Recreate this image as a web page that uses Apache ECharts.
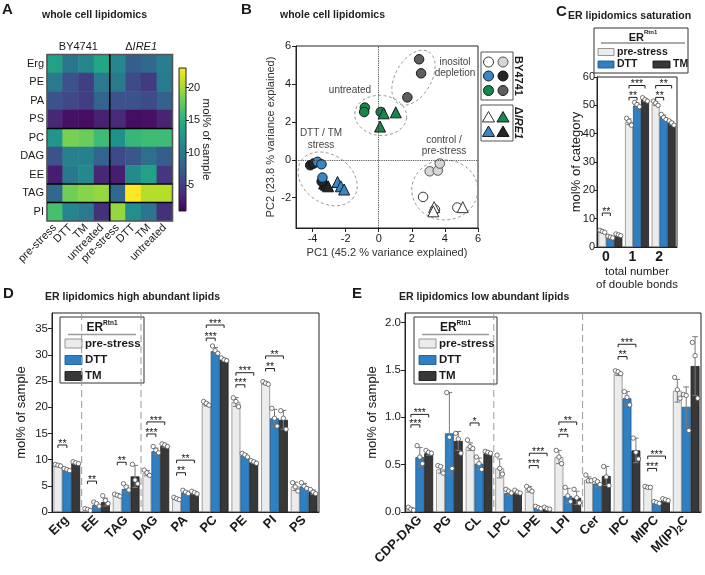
<!DOCTYPE html>
<html><head><meta charset="utf-8">
<script src="https://cdn.jsdelivr.net/npm/echarts@6/dist/echarts.min.js"></script>
<style>html,body{margin:0;padding:0;background:#fff}#c{width:705px;height:575px}</style>
</head><body><div id="c"></div>
<script>
const FONT = '"Liberation Sans", Arial, Helvetica, sans-serif';

// ---------- Panel A : heatmap ----------
const hmRows = ['Erg','PE','PA','PS','PC','DAG','EE','TAG','PI'];
const hmCols = ['pre-stress','DTT','TM','untreated','pre-stress','DTT','TM','untreated'];
const hmBY4741 = [
  [13.5, 9.5, 11.0, 14.0],
  [10.0, 6.5, 5.0, 10.0],
  [6.5, 5.8, 5.0, 8.0],
  [3.5, 2.0, 1.8, 3.0],
  [12.5, 18.5, 18.0, 16.0],
  [6.5, 10.5, 10.5, 8.0],
  [2.8, 9.8, 11.2, 3.5],
  [8.5, 18.2, 19.0, 19.5],
  [16.5, 11.0, 10.0, 4.0]
];
const hmIRE1 = [
  [11.0, 7.5, 8.5, 10.2],
  [10.0, 6.0, 4.8, 10.0],
  [6.5, 6.5, 6.0, 7.8],
  [3.6, 1.8, 2.0, 3.2],
  [12.0, 15.5, 16.0, 16.0],
  [5.8, 7.0, 9.0, 7.5],
  [2.8, 11.5, 13.5, 4.5],
  [8.5, 23.0, 20.5, 20.5],
  [19.5, 11.8, 9.5, 4.0]
];
const hmColBreaks = [4];
const hmRowBreaks = [4, 7, 8];
const cbMin = 1, cbMax = 23;
const cbTicks = [5, 10, 15, 20];

// ---------- Panel B : PCA ----------
const pcaXTicks = [-4, -2, 0, 2, 4, 6];
const pcaYTicks = [-2, 0, 2, 4, 6];
const byPreStress = [[2.68,-1.96],[3.4,-2.63],[4.75,-2.52]];
const byControl = [[3.08,-0.61],[3.57,-0.57],[3.69,-0.2]];
const byDTT = [[-3.70,-0.11],[-3.46,-0.24],[-3.40,-0.94]];
const byTM = [[-4.14,-0.29],[-3.94,-0.20],[-3.45,-1.15]];
const byUntreated = [[-0.84,2.75],[-0.88,2.52],[0.12,2.52]];
const byInositol = [[2.44,5.30],[2.56,4.56],[1.73,3.29]];
const ireControl = [[3.35,-2.5],[3.3,-2.72],[5.08,-2.5]];
const ireUntreated = [[0.3,2.45],[1.03,2.5],[0.08,1.75]];
const ireDTT = [[-2.49,-1.17],[-2.29,-1.40],[-2.09,-1.57]];
const ireTM = [[-3.30,-1.25],[-3.18,-1.32],[-3.06,-1.40]];
// ellipse annotations: centre x, centre y (data), semi-axes in px, tilt (deg)
const pcaEllipses = [[2.1,4.33,30,18,60],[0.12,2.34,26,20,-5],[-3.09,-1.01,32,24,-35],[3.99,-1.59,33,30,0]];

// ---------- Panel C : saturation ----------
const satCats = ['0','1','2'];
const satPre = [5.4, 44.2, 50.6];
const satDTT = [3.5, 49.9, 45.8];
const satTM = [4.3, 51.9, 43.7];
const satPreSD = [0.3, 1.0, 0.7];
const satDTTSD = [0.3, 0.9, 0.8];
const satTMSD = [0.3, 0.5, 0.6];
const satPrePts = [[5.9,5.5,5.2],[45.4,44.4,43.0],[51.5,50.8,50.0]];
const satDTTPts = [[3.8,3.5,3.2],[51.0,50.3,49.5],[46.8,45.7,45.0]];
const satTMPts = [[4.6,4.3,4.0],[52.7,52.0,51.5],[44.5,43.8,43.0]];
const satSig = [[0,0,1,12,2],[1,0,1,52.8,2],[1,0,2,57,3],[2,0,1,52.8,2],[2,0,2,57,2]];

// ---------- Panel D : high abundant ----------
const hiCats = ['Erg','EE','TAG','DAG','PA','PC','PE','PI','PS'];
const hiPre = [8.8, 0.5, 3.3, 7.4, 2.55, 20.6, 21.0, 24.6, 4.9];
const hiDTT = [8.1, 1.3, 4.4, 11.6, 3.7, 30.7, 10.8, 17.9, 4.9];
const hiTM = [9.3, 1.9, 6.8, 12.6, 3.6, 29.1, 9.5, 17.6, 3.8];
const hiPreSD = [0.15, 0.15, 0.2, 0.5, 0.2, 0.35, 0.85, 0.25, 0.8];
const hiDTTSD = [0.2, 0.4, 0.6, 0.6, 0.3, 0.7, 0.35, 1.7, 0.55];
const hiTMSD = [0.2, 0.75, 2.1, 0.3, 0.25, 0.25, 0.25, 1.8, 0.4];
const hiPrePts = [[9.07,8.94,8.8],[0.64,0.5,0.3],[3.4,3.2,3.0],[8.0,7.5,7.0],[2.8,2.55,2.36],[21.1,20.75,20.4],[21.8,21.1,20.1],[24.9,24.6,24.4],[5.6,4.8,4.0]];
const hiDTTPts = [[8.3,8.1,7.9],[1.9,1.6,1.1],[5.4,4.8,4.2],[12.5,11.8,11.3],[4.15,3.8,3.5],[31.7,30.8,30.3],[11.2,10.9,10.5],[19.8,17.9,16.4],[5.6,4.9,4.5]];
const hiTMPts = [[9.6,9.4,9.25],[3.1,2.2,1.6],[9.1,6.1,5.4],[13.0,12.8,12.5],[3.96,3.7,3.45],[29.4,29.05,28.9],[9.8,9.6,9.3],[19.35,17.9,15.8],[4.3,3.8,3.5]];
const hiSig = [[0,0,1,12.8,2],[1,0,1,5.9,2],[2,0,1,9.5,2],[3,0,1,14.9,3],[3,0,2,17.2,3],[4,0,1,7.5,2],[4,0,2,9.9,2],[5,0,1,33.2,3],[5,0,2,35.7,3],[6,0,1,24.3,3],[6,0,2,26.6,3],[7,0,1,27.4,2],[7,0,2,29.8,2]];
const hiSeparators = [1, 3];
const hiYTicks = [0,5,10,15,20,25,30,35];

// ---------- Panel E : low abundant ----------
const loCats = ['CDP-DAG','PG','CL','LPC','LPE','LPI','Cer','IPC','MIPC','M(IP)2C'];
const loPre = [0.035, 0.45, 0.69, 0.46, 0.24, 0.58, 0.34, 1.46, 0.26, 1.28];
const loDTT = [0.58, 0.83, 0.51, 0.20, 0.046, 0.17, 0.30, 1.20, 0.095, 1.11];
const loTM = [0.62, 0.75, 0.62, 0.20, 0.035, 0.15, 0.38, 0.65, 0.12, 1.54];
const loPreSD = [0.01, 0.04, 0.04, 0.1, 0.03, 0.07, 0.03, 0.02, 0.01, 0.12];
const loDTTSD = [0.1, 0.43, 0.06, 0.02, 0.01, 0.08, 0.03, 0.07, 0.01, 0.21];
const loTMSD = [0.02, 0.1, 0.01, 0.01, 0.01, 0.07, 0.1, 0.13, 0.01, 0.31];
const loPrePts = [[0.05,0.03,0.02],[0.49,0.48,0.41],[0.76,0.69,0.67],[0.6,0.46,0.4],[0.27,0.24,0.22],[0.65,0.58,0.51],[0.39,0.33,0.33],[1.49,1.48,1.46],[0.27,0.26,0.26],[1.42,1.29,1.2]];
const loDTTPts = [[0.70,0.58,0.51],[1.26,0.79,0.46],[0.58,0.51,0.45],[0.24,0.22,0.2],[0.06,0.046,0.035],[0.26,0.17,0.11],[0.34,0.32,0.29],[1.27,1.21,1.13],[0.11,0.1,0.09],[1.24,1.23,0.86]];
const loTMPts = [[0.65,0.63,0.62],[0.83,0.77,0.62],[0.64,0.63,0.62],[0.23,0.21,0.2],[0.05,0.035,0.03],[0.24,0.15,0.095],[0.48,0.37,0.28],[0.78,0.63,0.56],[0.14,0.13,0.12],[1.79,1.65,1.2]];
const loSig = [[0,0,1,0.92,3],[0,0,2,1.03,3],[2,0,1,0.94,1],[4,0,1,0.49,3],[4,0,2,0.62,3],[5,0,1,0.82,2],[5,0,2,0.95,2],[7,0,1,1.64,2],[7,0,2,1.77,3],[8,0,1,0.46,3],[8,0,2,0.59,3]];
const loSeparators = [3, 6];
const loYTicks = [0, 0.5, 1.0, 1.5, 2.0];

// ---------- styles ----------
const condNames = ['pre-stress','DTT','TM'];
const condFill = ['#ececec','#2f7fc3','#383838'];
const condStroke = ['#8a8a8a','#1f5a92','#1a1a1a'];
const viridis = ['#440154','#482475','#414487','#355f8d','#2a788e','#21918c','#22a884','#44bf70','#7ad151','#bddf26','#fde725'];
const INK = '#1a1a1a';

const G_HM = {left:47, top:54.5, width:125.5, height:166.5};
const G_CB = {left:179, top:68, width:7, height:143};
const G_PCA = {left:296, top:46, width:182, height:182};
const G_C = {left:597, top:77, width:80, height:170};
const G_D = {left:52, top:313, width:267, height:199};
const G_E = {left:405, top:313, width:296, height:199};

const chart = echarts.init(document.getElementById('c'), null, {width:705, height:575});

function gridOf(g, frame) {
  return Object.assign({containLabel:false, outerBoundsMode:'none', show:!!frame, borderColor:'#222', borderWidth:1, backgroundColor:'transparent'}, g);
}

// ---------- custom renderers ----------
function barOffset(api, k) {
  const bw = api.size([1,0])[0];
  const barW = bw * 0.9 / 3;
  return {barW, off:(k-1)*barW};
}
function renderErr(params, api) {
  const i = api.value(0), k = api.value(1), m = api.value(2), s = api.value(3);
  const {barW, off} = barOffset(api, k);
  const cx = api.coord([i, m])[0] + off;
  const yT = api.coord([i, m + s])[1], yB = api.coord([i, Math.max(0, m - s)])[1];
  const cap = barW * 0.32;
  const st = {stroke:'#7a7a7a', lineWidth:1};
  return {type:'group', children:[
    {type:'line', shape:{x1:cx,y1:yT,x2:cx,y2:yB}, style:st},
    {type:'line', shape:{x1:cx-cap,y1:yT,x2:cx+cap,y2:yT}, style:st},
    {type:'line', shape:{x1:cx-cap,y1:yB,x2:cx+cap,y2:yB}, style:st}
  ]};
}
function renderPt(params, api) {
  const i = api.value(0), k = api.value(1), j = api.value(2), v = api.value(3);
  const {barW, off} = barOffset(api, k);
  const p = api.coord([i, v]);
  return {type:'circle', shape:{cx:p[0] + off + (j-1)*barW*0.3, cy:p[1], r:2.2}, style:{fill:'#fff', stroke:'#505050', lineWidth:0.8}};
}
function renderSig(params, api) {
  const i = api.value(0), k1 = api.value(1), k2 = api.value(2), y = api.value(3), n = api.value(4);
  const a = barOffset(api, k1), b = barOffset(api, k2);
  const c = api.coord([i, y]);
  const x1 = c[0] + a.off, x2 = c[0] + b.off, yy = c[1];
  const st = {stroke:'#222', lineWidth:1, fill:'none'};
  return {type:'group', children:[
    {type:'polyline', shape:{points:[[x1,yy+3],[x1,yy],[x2,yy],[x2,yy+3]]}, style:st},
    {type:'text', x:(x1+x2)/2, y:yy-1.2, style:{text:'*'.repeat(n), fill:'#222', fontSize:10.5, fontFamily:FONT, align:'center', verticalAlign:'middle'}}
  ]};
}
function renderSep(params, api) {
  const cs = params.coordSys;
  const bw = api.size([1,0])[0];
  const x = api.coord([api.value(0), 0])[0] - bw/2;
  return {type:'line', shape:{x1:x,y1:cs.y,x2:x,y2:cs.y+cs.height}, style:{stroke:'#9a9a9a', lineWidth:1, lineDash:[7,4]}};
}
function renderHmLines(params, api) {
  const cs = params.coordSys;
  const kind = api.value(2);
  const bw = api.size([1,0])[0], bh = api.size([0,1])[1];
  const st = {stroke:'#000', lineWidth:1.6, fill:'none'};
  if (kind === 2) return {type:'rect', shape:{x:cs.x, y:cs.y, width:cs.width, height:cs.height}, style:{stroke:'#555', lineWidth:1.6, fill:'none'}};
  if (kind === 0) { const x = api.coord([api.value(0), 0])[0] - bw/2; return {type:'line', shape:{x1:x,y1:cs.y,x2:x,y2:cs.y+cs.height}, style:st}; }
  const y = api.coord([0, api.value(1)])[1] - bh/2;
  return {type:'line', shape:{x1:cs.x,y1:y,x2:cs.x+cs.width,y2:y}, style:st};
}
function renderEllipse(params, api) {
  const c = api.coord([api.value(0), api.value(1)]);
  const rx = api.value(2), ry = api.value(3), a = api.value(4) * Math.PI / 180;
  const pts = [];
  for (let t = 0; t < 72; t++) {
    const th = t / 72 * Math.PI * 2;
    const ex = rx * Math.cos(th), ey = ry * Math.sin(th);
    pts.push([c[0] + ex*Math.cos(a) + ey*Math.sin(a), c[1] - ex*Math.sin(a) + ey*Math.cos(a)]);
  }
  return {type:'polygon', shape:{points:pts}, style:{fill:'none', stroke:'#8a8a8a', lineWidth:0.9, lineDash:[3,2.5]}};
}

// ---------- bar panel builder ----------
function barPanel(ax, means, sds, pts, sig, seps) {
  const out = [];
  if (seps) out.push({type:'custom', xAxisIndex:ax, yAxisIndex:ax, renderItem:renderSep, silent:true, z:1,
    data:seps.map(b => [b, 0]), encode:{x:0, y:1}});
  for (let k = 0; k < 3; k++) {
    out.push({type:'bar', name:condNames[k], xAxisIndex:ax, yAxisIndex:ax, data:means[k], barGap:'0%', barCategoryGap:'10%', silent:true, z:2,
      itemStyle:{color:condFill[k], borderColor:condStroke[k], borderWidth:0.8}});
  }
  const errData = [], ptData = [];
  for (let k = 0; k < 3; k++) {
    means[k].forEach((m, i) => {
      errData.push([i, k, m, sds[k][i]]);
      pts[k][i].forEach((v, j) => ptData.push([i, k, j, v]));
    });
  }
  out.push({type:'custom', xAxisIndex:ax, yAxisIndex:ax, renderItem:renderErr, data:errData, encode:{x:0, y:2}, silent:true, z:3});
  out.push({type:'custom', xAxisIndex:ax, yAxisIndex:ax, renderItem:renderPt, data:ptData, encode:{x:0, y:3}, silent:true, z:4});
  out.push({type:'custom', xAxisIndex:ax, yAxisIndex:ax, renderItem:renderSig, data:sig, encode:{x:0, y:3}, silent:true, z:5});
  return out;
}

// ---------- heatmap data ----------
const hmData = [];
hmRows.forEach((r, ri) => {
  for (let c = 0; c < 8; c++) hmData.push([c, ri, c < 4 ? hmBY4741[ri][c] : hmIRE1[ri][c-4]]);
});
const hmLines = [[0,0,2]].concat(hmColBreaks.map(c => [c,0,0])).concat(hmRowBreaks.map(r => [0,r,1]));

// ---------- axes ----------
const lbl = {color:INK, fontFamily:FONT, fontSize:11};
const axLine = {show:true, lineStyle:{color:'#222', width:1}};
const axTick = {show:true, inside:false, length:4, lineStyle:{color:'#222'}};

const xAxes = [
  {gridIndex:0, type:'category', data:hmCols, axisLine:{show:false}, axisTick:{show:false}, splitLine:{show:false},
   axisLabel:Object.assign({}, lbl, {interval:0, rotate:45, margin:5})},
  {gridIndex:1, type:'category', data:[''], show:false},
  {gridIndex:2, type:'value', min:-5, max:6, axisLine:Object.assign({onZero:false}, axLine), splitLine:{show:false},
   axisTick:Object.assign({customValues:pcaXTicks}, axTick), axisLabel:Object.assign({customValues:pcaXTicks, margin:5}, lbl),
   name:'PC1 (45.2 % variance explained)', nameLocation:'middle', nameGap:19, nameTextStyle:{color:'#333', fontFamily:FONT, fontSize:11}},
  {gridIndex:3, type:'category', data:satCats, axisLine:axLine, axisTick:{show:false},
   axisLabel:{color:INK, fontFamily:FONT, fontSize:14, fontWeight:'bold', margin:3, padding:[0,9,0,0]},
   name:'total number\nof double bonds', nameLocation:'middle', nameGap:17,
   nameTextStyle:{color:INK, fontFamily:FONT, fontSize:11.5, lineHeight:13, verticalAlign:'top'}},
  {gridIndex:4, type:'category', data:hiCats, axisLine:axLine, axisTick:{show:false},
   axisLabel:{color:INK, fontFamily:FONT, fontSize:13, fontWeight:'bold', rotate:45, interval:0, margin:6}},
  {gridIndex:5, type:'category', data:loCats, axisLine:axLine, axisTick:{show:false},
   axisLabel:{interval:0, rotate:45, margin:6,
     formatter: v => v === 'M(IP)2C' ? '{m|M(IP)}{s|2}{m|C}' : '{m|' + v + '}',
     rich:{m:{color:INK, fontFamily:FONT, fontSize:13, fontWeight:'bold', lineHeight:16, verticalAlign:'middle'},
           s:{color:INK, fontFamily:FONT, fontSize:9, fontWeight:'bold', lineHeight:8, verticalAlign:'bottom'}}}}
];
const yAxes = [
  {gridIndex:0, type:'category', data:hmRows, inverse:true, axisLine:{show:false}, axisTick:{show:false}, splitLine:{show:false},
   axisLabel:Object.assign({}, lbl, {interval:0, margin:3})},
  {gridIndex:1, type:'value', min:cbMin, max:cbMax, position:'right', axisLine:{show:false}, splitLine:{show:false},
   axisTick:{show:true, length:3, customValues:cbTicks, lineStyle:{color:'#222'}},
   axisLabel:Object.assign({customValues:cbTicks, margin:2}, lbl)},
  {gridIndex:2, type:'value', min:-3.6, max:6, axisLine:Object.assign({onZero:false}, axLine), splitLine:{show:false},
   axisTick:Object.assign({customValues:pcaYTicks}, axTick), axisLabel:Object.assign({customValues:pcaYTicks, margin:5}, lbl),
   name:'PC2 (23.8 % variance explained)', nameLocation:'middle', nameGap:20, nameTextStyle:{color:'#333', fontFamily:FONT, fontSize:11}},
  {gridIndex:3, type:'value', min:0, max:60, interval:10, axisLine:axLine, axisTick:Object.assign({}, axTick, {length:3}), splitLine:{show:false},
   axisLabel:Object.assign({margin:2}, lbl, {fontSize:11}),
   name:'mol% of category', nameLocation:'middle', nameGap:14, nameMoveOverlap:false, nameTextStyle:{color:INK, fontFamily:FONT, fontSize:13}},
  {gridIndex:4, type:'value', min:0, max:38, axisLine:axLine, splitLine:{show:false},
   axisTick:Object.assign({customValues:hiYTicks}, axTick), axisLabel:Object.assign({customValues:hiYTicks, margin:4}, lbl, {fontSize:11.5}),
   name:'mol% of sample', nameLocation:'middle', nameGap:24, nameTextStyle:{color:INK, fontFamily:FONT, fontSize:13}},
  {gridIndex:5, type:'value', min:0, max:2.1, axisLine:axLine, splitLine:{show:false},
   axisTick:Object.assign({customValues:loYTicks}, axTick),
   axisLabel:Object.assign({customValues:loYTicks, margin:4, formatter: v => v.toFixed(1)}, lbl, {fontSize:11.5}),
   name:'mol% of sample', nameLocation:'middle', nameGap:26, nameTextStyle:{color:INK, fontFamily:FONT, fontSize:13}}
];

// ---------- series ----------
const series = [];
series.push({type:'heatmap', xAxisIndex:0, yAxisIndex:0, data:hmData, silent:true, itemStyle:{borderWidth:0}});
series.push({type:'custom', xAxisIndex:0, yAxisIndex:0, renderItem:renderHmLines, data:hmLines, encode:{x:0, y:1}, silent:true, z:5});

// PCA
series.push({type:'scatter', xAxisIndex:2, yAxisIndex:2, data:[], silent:true,
  markLine:{silent:true, symbol:['none','none'], label:{show:false}, animation:false,
    lineStyle:{type:'dotted', color:'#333', width:0.9}, data:[{xAxis:0},{yAxis:0}]}});
series.push({type:'custom', xAxisIndex:2, yAxisIndex:2, renderItem:renderEllipse, data:pcaEllipses, encode:{x:0, y:1}, silent:true, z:1});
function pcaSeries(data, symbol, fill, stroke) {
  return {type:'scatter', xAxisIndex:2, yAxisIndex:2, data, symbol, symbolSize: symbol === 'triangle' ? 11 : 9.5, silent:true, z:3,
    itemStyle:{color:fill, borderColor:stroke, borderWidth:1, opacity:1}};
}
series.push(pcaSeries(byControl, 'circle', '#d6d6d6', '#555'));
series.push(pcaSeries(byPreStress, 'circle', '#ffffff', '#333'));
series.push(pcaSeries(ireControl, 'triangle', '#ffffff', '#333'));
series.push(pcaSeries(byInositol, 'circle', '#5e5e5e', '#1a1a1a'));
series.push(pcaSeries(byUntreated, 'circle', '#138a4b', '#1a1a1a'));
series.push(pcaSeries(ireUntreated, 'triangle', '#138a4b', '#1a1a1a'));
series.push(pcaSeries(ireTM, 'triangle', '#262626', '#111'));
series.push(pcaSeries(byTM, 'circle', '#262626', '#111'));
series.push(pcaSeries(ireDTT, 'triangle', '#3a87c8', '#1a1a1a'));
series.push(pcaSeries(byDTT, 'circle', '#3a87c8', '#1a1a1a'));

// bar panels
barPanel(3, [satPre, satDTT, satTM], [satPreSD, satDTTSD, satTMSD], [satPrePts, satDTTPts, satTMPts], satSig, null).forEach(s => series.push(s));
barPanel(4, [hiPre, hiDTT, hiTM], [hiPreSD, hiDTTSD, hiTMSD], [hiPrePts, hiDTTPts, hiTMPts], hiSig, hiSeparators).forEach(s => series.push(s));
barPanel(5, [loPre, loDTT, loTM], [loPreSD, loDTTSD, loTMSD], [loPrePts, loDTTPts, loTMPts], loSig, loSeparators).forEach(s => series.push(s));

// ---------- graphic decorations ----------
function txt(x, y, text, style, extra) {
  return Object.assign({type:'text', x, y, z:60, silent:true,
    style:Object.assign({text, fill:INK, fontFamily:FONT, fontSize:11, align:'left', verticalAlign:'middle'}, style || {})}, extra || {});
}
const erRich = {a:{fill:INK, fontFamily:FONT, fontSize:12, fontWeight:'bold', lineHeight:14, verticalAlign:'bottom'},
                s:{fill:INK, fontFamily:FONT, fontSize:6.5, fontWeight:'bold', lineHeight:8, verticalAlign:'top'}};
function vLegend(x, y, w, h) {
  const ch = [
    {type:'rect', shape:{x:0, y:0, width:w, height:h}, style:{fill:'#fff', stroke:'#333', lineWidth:1}},
    {type:'text', x:w/2, y:10, style:{text:'{a|ER}{s|Rtn1}', rich:erRich, align:'center', verticalAlign:'middle'}},
    {type:'line', shape:{x1:8, y1:17.5, x2:w-8, y2:17.5}, style:{stroke:'#9a9a9a', lineWidth:1.6}}
  ];
  const rows = [26.5, 43, 59];
  for (let k = 0; k < 3; k++) {
    ch.push({type:'rect', shape:{x:5, y:rows[k]-4.5, width:17, height:9}, style:{fill:condFill[k], stroke:condStroke[k], lineWidth:0.9}});
    ch.push({type:'text', x:25, y:rows[k], style:{text:condNames[k], fill:INK, fontFamily:FONT, fontSize:11.5, fontWeight:'bold', align:'left', verticalAlign:'middle'}});
  }
  return {type:'group', x, y, z:50, silent:true, children:ch};
}
function cLegend(x, y) {
  const ch = [
    {type:'rect', shape:{x:0, y:0, width:94, height:45}, style:{fill:'#fff', stroke:'#333', lineWidth:1}},
    {type:'text', x:49, y:8.5, style:{text:'{a|ER}{s|Rtn1}', rich:{a:Object.assign({}, erRich.a, {fontSize:11}), s:Object.assign({}, erRich.s, {fontSize:6})}, align:'center', verticalAlign:'middle'}},
    {type:'line', shape:{x1:7, y1:15, x2:91, y2:15}, style:{stroke:'#555', lineWidth:1}},
    {type:'rect', shape:{x:4, y:20.5, width:16, height:7}, style:{fill:condFill[0], stroke:condStroke[0], lineWidth:0.9}},
    {type:'text', x:23, y:24, style:{text:'pre-stress', fill:INK, fontFamily:FONT, fontSize:10.5, fontWeight:'bold', verticalAlign:'middle'}},
    {type:'rect', shape:{x:4, y:33, width:16, height:7}, style:{fill:condFill[1], stroke:condStroke[1], lineWidth:0.9}},
    {type:'text', x:23, y:36.5, style:{text:'DTT', fill:INK, fontFamily:FONT, fontSize:10.5, fontWeight:'bold', verticalAlign:'middle'}},
    {type:'rect', shape:{x:59, y:33, width:17, height:7}, style:{fill:condFill[2], stroke:condStroke[2], lineWidth:0.9}},
    {type:'text', x:79, y:36.5, style:{text:'TM', fill:INK, fontFamily:FONT, fontSize:10.5, fontWeight:'bold', verticalAlign:'middle'}}
  ];
  return {type:'group', x, y, z:50, silent:true, children:ch};
}
function tri(cx, cy, s, fill, stroke) {
  return {type:'polygon', shape:{points:[[cx, cy-s*0.5],[cx+s*0.55, cy+s*0.45],[cx-s*0.55, cy+s*0.45]]}, style:{fill, stroke, lineWidth:1}};
}
function circ(cx, cy, fill, stroke) {
  return {type:'circle', shape:{cx, cy, r:5}, style:{fill, stroke, lineWidth:1}};
}
const pcaLegend = {type:'group', z:50, silent:true, children:[
  {type:'rect', shape:{x:481, y:52, width:32, height:48}, style:{fill:'#fff', stroke:'#555', lineWidth:1}},
  circ(488.5, 62, '#ffffff', '#333'), circ(503, 62, '#d6d6d6', '#555'),
  circ(488.5, 76, '#3a87c8', '#1a1a1a'), circ(503, 76, '#262626', '#111'),
  circ(488.5, 90.5, '#138a4b', '#1a1a1a'), circ(503, 90.5, '#5e5e5e', '#1a1a1a'),
  {type:'rect', shape:{x:481, y:105, width:32, height:36}, style:{fill:'#fff', stroke:'#555', lineWidth:1}},
  tri(488.5, 117, 11, '#ffffff', '#333'), tri(503, 117, 11, '#138a4b', '#1a1a1a'),
  tri(488.5, 131.5, 11, '#3a87c8', '#1a1a1a'), tri(503, 131.5, 11, '#262626', '#111')
]};

const graphics = [
  // panel letters & titles
  txt(2, 10, 'A', {fontSize:15, fontWeight:'bold'}),
  txt(42, 15.5, 'whole cell lipidomics', {fontSize:10.5, fontWeight:'bold', fill:'#222'}),
  txt(241, 10, 'B', {fontSize:15, fontWeight:'bold'}),
  txt(280, 15.5, 'whole cell lipidomics', {fontSize:10.5, fontWeight:'bold', fill:'#222'}),
  txt(556, 12, 'C', {fontSize:15, fontWeight:'bold'}),
  txt(568, 16, 'ER lipidomics saturation', {fontSize:10.5, fontWeight:'bold', fill:'#222'}),
  txt(3, 294, 'D', {fontSize:15, fontWeight:'bold'}),
  txt(45, 297.5, 'ER lipidomics high abundant lipids', {fontSize:10.5, fontWeight:'bold', fill:'#222'}),
  txt(352, 294, 'E', {fontSize:15, fontWeight:'bold'}),
  txt(399, 297.5, 'ER lipidomics low abundant lipids', {fontSize:10.5, fontWeight:'bold', fill:'#222'}),
  // heatmap headers
  txt(G_HM.left + G_HM.width*0.25, 47, 'BY4741', {align:'center', fontSize:11}),
  txt(G_HM.left + G_HM.width*0.75, 47, '{n|Δ}{i|IRE1}', {align:'center',
    rich:{n:{fill:INK, fontFamily:FONT, fontSize:11}, i:{fill:INK, fontFamily:FONT, fontSize:11, fontStyle:'italic'}}}),
  // colour bar
  {type:'rect', z:40, silent:true, shape:{x:G_CB.left, y:G_CB.top, width:G_CB.width, height:G_CB.height},
   style:{fill:new echarts.graphic.LinearGradient(0, 1, 0, 0, viridis.map((c, i) => ({offset:i/(viridis.length-1), color:c}))), stroke:'#222', lineWidth:1}},
  txt(206, 139.5, 'mol% of sample', {align:'center', fontSize:11.5}, {rotation:-Math.PI/2}),
  // PCA annotations
  txt(455, 62, 'inositol', {align:'center', fontSize:10, fill:'#444'}),
  txt(455, 73, 'depletion', {align:'center', fontSize:10, fill:'#444'}),
  txt(350, 90, 'untreated', {align:'center', fontSize:10, fill:'#444'}),
  txt(321, 133, 'DTT / TM', {align:'center', fontSize:10, fill:'#444'}),
  txt(321, 145.5, 'stress', {align:'center', fontSize:10, fill:'#444'}),
  txt(444, 140, 'control /', {align:'center', fontSize:10, fill:'#444'}),
  txt(444, 151.5, 'pre-stress', {align:'center', fontSize:10, fill:'#444'}),
  pcaLegend,
  txt(518.5, 76, 'BY4741', {align:'center', fontSize:11, fontWeight:'bold'}, {rotation:-Math.PI/2}),
  txt(518.5, 123, '{n|Δ}{i|IRE1}', {align:'center',
    rich:{n:{fill:INK, fontFamily:FONT, fontSize:11, fontWeight:'bold'}, i:{fill:INK, fontFamily:FONT, fontSize:11, fontWeight:'bold', fontStyle:'italic'}}},
    {rotation:-Math.PI/2}),
  // legends
  cLegend(594, 28),
  vLegend(60, 317, 84, 66),
  vLegend(414, 317, 83, 67)
];

chart.setOption({
  animation:false,
  backgroundColor:'#fff',
  textStyle:{fontFamily:FONT},
  grid:[gridOf(G_HM, false), gridOf(G_CB, false), gridOf(G_PCA, true), gridOf(G_C, true), gridOf(G_D, true), gridOf(G_E, true)],
  xAxis:xAxes,
  yAxis:yAxes,
  visualMap:[{type:'continuous', show:false, min:cbMin, max:cbMax, seriesIndex:0, dimension:2, inRange:{color:viridis}}],
  series,
  graphic:graphics
});
</script>
</body></html>
